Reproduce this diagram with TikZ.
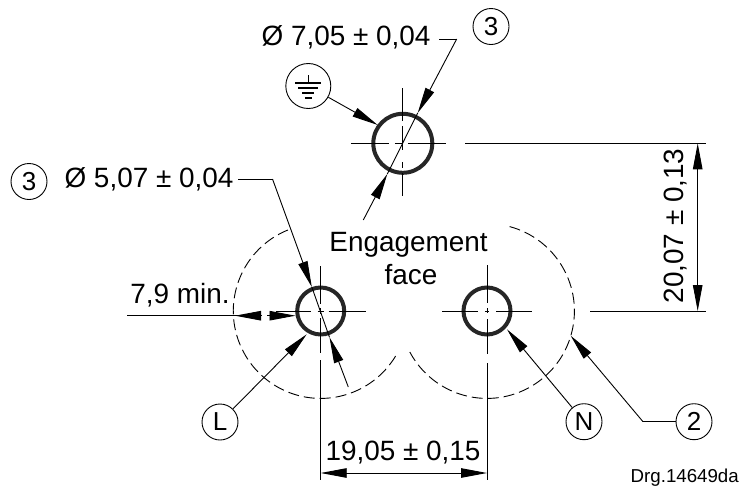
\documentclass[tikz,border=0pt]{standalone}
\usepackage{fontspec}
\setmainfont{Liberation Sans}
\usetikzlibrary{arrows.meta}
\tikzset{
    dimtext/.style={inner sep=0,outer sep=0,anchor=base,font=\fontsize{27.9}{33}\selectfont},
    callout/.style={draw,circle,line width=0.9pt,minimum size=36pt,inner sep=0,font=\fontsize{26}{30}\selectfont},
    leader/.style={line width=0.9pt},
    dimtip/.tip={Triangle[length=26pt,width=9.5pt]},
    pointer/.style={line width=0.9pt,-dimtip},
    pinline/.style={line width=4pt,draw=black!85},
    centreline/.style={line width=1pt},
    outline/.style={line width=0.9pt,dash pattern=on 11pt off 5pt}
}
\begin{document}
\begin{tikzpicture}[x=1pt,y=-1pt]
    \useasboundingbox (0,0) rectangle (740,488);
    % pin centres
    \coordinate (pinE) at (402.8,143.3);
    \coordinate (pinL) at (320.7,311);
    \coordinate (pinN) at (487,311);
    % engagement face outline
    \draw[outline] (pinL) ++(-112:87.4) arc[start angle=112,end angle=332,radius=87.4pt];
    \draw[outline] (pinN) ++(-75:87.4) arc[start angle=75,end angle=-152,radius=87.4pt];
    % pins
    \draw[pinline] (pinE) circle (29.5);
    \draw[pinline] (pinL) circle (23.5);
    \draw[pinline] (pinN) circle (23.5);
    % centre lines
    \draw[centreline] (pinE) ++(-52,0) -- ++(38,0) ++(6,0) -- ++(8,0) ++(5,0) -- ++(38,0);
    \draw[centreline] (pinE) ++(0,-55) -- ++(0,33) ++(0,5) -- ++(0,24) ++(0,12) -- ++(0,6) ++(0,5) -- ++(0,23);
    \draw[centreline] (pinL) ++(-45,0) -- ++(35,0) ++(7,0) -- ++(6,0) ++(5,0) -- ++(37,0);
    \draw[centreline] (pinL) ++(0,-45) -- ++(0,38) ++(0,4) -- ++(0,6) ++(0,4) -- ++(0,35) ++(0,7) -- ++(0,120);
    \draw[centreline] (pinN) ++(-45,0) -- ++(36,0) ++(7,0) -- ++(4,0) ++(7,0) -- ++(36,0);
    \draw[centreline] (pinN) ++(0,-46) -- ++(0,38) ++(0,5) -- ++(0,5) ++(0,6) -- ++(0,35) ++(0,9) -- ++(0,117);
    % dimensions
    \node[dimtext] (dimE) at (346,45) {Ø 7,05 ± 0,04};
    \node[dimtext] (dimL) at (149,187) {Ø 5,07 ± 0,04};
    \node[dimtext] (dimMin) at (180,303) {7,9 min.};
    \node[dimtext] (dimPitch) at (403,460) {19,05 ± 0,15};
    \node[dimtext,rotate=90] (dimHeight) at (683,226) {20,07 ± 0,13};
    \node[dimtext] (engage) at (408.5,251) {Engagement};
    \node[dimtext] (face) at (411,284) {face};
    \node[inner sep=0,anchor=base east,font=\fontsize{18.7}{22}\selectfont] (drg) at (739,482) {Drg.14649da};
    % callouts
    \node[callout] (noteE) at (491,26.5) {3};
    \node[callout] (noteL) at (29,181.5) {3};
    \node[callout,minimum size=45pt] (earth) at (308.3,86) {};
    \node[callout] (lineL) at (220,422) {L};
    \node[callout] (lineN) at (584,421.7) {N};
    \node[callout] (noteB) at (694,421.7) {2};
    % earth symbol
    \draw[line width=1.6pt] (earth) ++(0,-11) -- ++(0,8)
        (earth) ++(-13,-3) -- ++(26,0)
        (earth) ++(-10,2) -- ++(20,0)
        (earth) ++(-6,7) -- ++(12,0);
    \draw[line width=2pt] (earth) ++(-3.5,12) -- ++(7,0);
    % leader points
    \coordinate (kneeE) at (456.7,39);
    \coordinate (tipEa) at (417.7,113);
    \coordinate (tipEb) at (387.3,174);
    \coordinate (endE) at (363.3,220);
    \coordinate (kneeL) at (272.5,179);
    \coordinate (tipLa) at (311.8,287);
    \coordinate (tipLb) at (329.5,337.3);
    \coordinate (endL) at (348.3,387);
    \coordinate (kneeB) at (643,421.7);
    % 7,05 leader
    \draw[leader,shorten <=9pt] (dimE.east |- kneeE) -- (kneeE);
    \draw[pointer] (kneeE) -- (tipEa);
    \draw[leader] (tipEa) -- (tipEb);
    \draw[pointer] (endE) -- (tipEb);
    % 5,07 leader
    \draw[leader,shorten <=5pt] (dimL.east |- kneeL) -- (kneeL);
    \draw[pointer] (kneeL) -- (tipLa);
    \draw[leader] (tipLa) -- (tipLb);
    \draw[pointer] (endL) -- (tipLb);
    % callout arrows
    \draw[pointer] (earth) -- (377.7,125);
    \draw[pointer] (lineL) -- (306.7,334.3);
    \draw[pointer] (lineN) -- (507,329.3);
    \draw[leader] (noteB) -- (kneeB);
    \draw[pointer] (kneeB) -- (570.7,335.7);
    % 7,9 min.
    \coordinate (minStart) at (127,315.7);
    \coordinate (minOut) at (235,315.7);
    \coordinate (minMid) at (262,315.7);
    \coordinate (minIn) at (267,315.7);
    \coordinate (minEnd) at (295.5,315.7);
    \draw[leader] (minStart) -- (minMid);
    \draw[pointer] (minMid) -- (minOut);
    \draw[pointer] (minIn) -- (minEnd);
    % 19,05
    \coordinate (pitchL) at (320.7,473);
    \coordinate (pitchN) at (487,473);
    \draw[leader,dimtip-dimtip] (pitchL) -- (pitchN);
    % 20,07
    \coordinate (heightE) at (697.7,143.3);
    \coordinate (heightN) at (697.7,311);
    \draw[leader] (465,143.3) -- (706,143.3);
    \draw[leader] (590,311) -- (706,311);
    \draw[leader,dimtip-dimtip] (heightE) -- (heightN);
\end{tikzpicture}
\end{document}
